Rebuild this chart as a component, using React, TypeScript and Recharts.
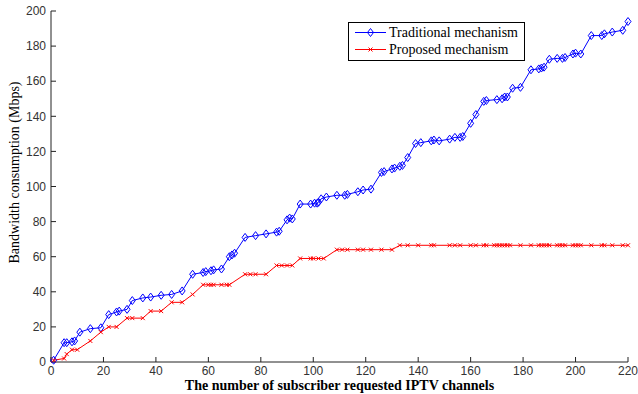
import { Label, Line, LineChart, XAxis, YAxis } from "recharts";

// Traditional mechanism (blue diamonds)
const tradX = [
  1, 5, 6, 8, 9, 11, 15, 19, 22, 25, 26, 29, 31, 35, 38, 42, 46, 50, 54, 58,
  59, 61, 62, 65, 68, 69, 70, 74, 78, 82, 86, 87, 90, 91, 92, 95, 99, 100.5,
  101.5, 102, 103, 105, 109, 112, 113, 117, 119, 122, 126, 127, 130, 131, 133,
  134, 136, 139, 141, 145, 146, 148, 152, 154, 156, 157, 160, 162, 165, 166,
  170, 172, 173, 174, 176, 179, 183, 186, 187, 188, 190, 193, 195, 196, 199,
  200, 202, 206, 210, 211, 214, 218, 220,
];
const tradY = [
  1, 11, 11, 11.5, 12, 17, 19, 19.5, 27, 28.5, 29, 30, 35, 36.5, 37, 38, 38.5,
  40.5, 50, 51, 51.5, 52, 52.5, 53, 60, 61, 62, 71, 72, 73, 74, 74.5, 81, 82,
  81.5, 90, 90, 90.5, 90.5, 91, 93, 94, 95, 95, 95.5, 97, 98, 98.5, 108, 108.5,
  110, 110.5, 111.5, 112, 116.5, 124.5, 125, 126, 126.5, 126, 127, 128, 128,
  128.5, 136, 141, 148.5, 149, 149.5, 150, 151, 151, 156, 156.5, 166.5, 167,
  167.5, 168, 172.5, 173, 173, 173.5, 175.5, 176, 175.5, 186, 186, 187, 188,
  189, 194,
];

// Proposed mechanism (red crosses)
const propX = [
  1, 5, 6, 8, 10, 15, 19, 22, 25, 29, 31, 35, 38, 42, 46, 50, 54, 58, 60, 61,
  62, 65, 67, 68, 74, 76, 78, 82, 86, 88, 90, 92, 95, 99, 100, 102, 104, 109,
  111, 113, 117, 119, 122, 126, 130, 133, 136, 140, 145, 146, 152, 154, 156,
  160, 162, 165, 166, 169, 170, 171, 172, 173, 174, 175, 179, 183, 186, 187,
  188, 189, 190, 193, 194, 195, 196, 199, 200, 201, 202, 206, 210, 211, 214,
  218, 220,
];
const propY = [
  1, 2, 4.5, 7, 7, 12, 17, 20, 20, 25, 25, 25, 29, 29, 34, 34, 38.5, 44, 44,
  44, 44, 44, 44, 44, 50, 50, 50, 50, 55, 55, 55, 55, 59, 59, 59, 59, 59, 64,
  64, 64, 64, 64, 64, 64, 64, 66.5, 66.5, 66.5, 66.5, 66.5, 66.5, 66.5, 66.5,
  66.5, 66.5, 66.5, 66.5, 66.5, 66.5, 66.5, 66.5, 66.5, 66.5, 66.5, 66.5, 66.5,
  66.5, 66.5, 66.5, 66.5, 66.5, 66.5, 66.5, 66.5, 66.5, 66.5, 66.5, 66.5, 66.5,
  66.5, 66.5, 66.5, 66.5, 66.5, 66.5,
];

const xTicks = [0, 20, 40, 60, 80, 100, 120, 140, 160, 180, 200, 220];
const yTicks = [0, 20, 40, 60, 80, 100, 120, 140, 160, 180, 200];

const tradData = tradX.map((x, i) => ({ x, y: tradY[i] }));
const propData = propX.map((x, i) => ({ x, y: propY[i] }));

const BLUE = "#0000ff";
const RED = "#ff0000";
const serif = "'Liberation Serif', 'Times New Roman', serif";
const tickStyle = { fontFamily: "'Liberation Sans', Arial, sans-serif", fontSize: 12, fill: "#333" };

const Diamond = (props: any) => {
  const { cx, cy } = props;
  if (cx == null || cy == null) return null;
  return (
    <path
      d={`M${cx},${cy - 4}L${cx + 3},${cy}L${cx},${cy + 4}L${cx - 3},${cy}Z`}
      fill="none"
      stroke={BLUE}
      strokeWidth={1}
    />
  );
};

const Cross = (props: any) => {
  const { cx, cy } = props;
  if (cx == null || cy == null) return null;
  return (
    <path
      d={`M${cx - 2},${cy - 2}L${cx + 2},${cy + 2}M${cx - 2},${cy + 2}L${cx + 2},${cy - 2}`}
      stroke={RED}
      strokeWidth={1}
    />
  );
};

// legend drawn as an overlay so it doesn't take space from the plot
const LegendBox = () => (
  <svg width={177} height={39} style={{ position: "absolute", left: 348, top: 22 }}>
    <rect x={0.5} y={0.5} width={176} height={38} fill="#fff" stroke="#000" />
    <line x1={7} x2={38} y1={10.5} y2={10.5} stroke={BLUE} />
    <Diamond cx={22.5} cy={10.5} />
    <text x={41} y={15} fontFamily={serif} fontSize={14} fill="#000">
      Traditional mechanism
    </text>
    <line x1={7} x2={38} y1={27.5} y2={27.5} stroke={RED} />
    <Cross cx={22.5} cy={27.5} />
    <text x={41} y={32} fontFamily={serif} fontSize={14} fill="#000">
      Proposed mechanism
    </text>
  </svg>
);

export default function App() {
  return (
    <div style={{ position: "absolute", left: 0, top: 0, width: 638, height: 394, background: "#fff" }}>
      <LineChart
        width={638}
        height={394}
        margin={{ top: 11, right: 10, left: 0, bottom: 0 }}
      >
        <XAxis
          dataKey="x"
          type="number"
          domain={[0, 220]}
          ticks={xTicks}
          interval={0}
          height={32}
          tickSize={-5}
          tickMargin={9}
          tick={tickStyle}
          stroke="#222"
          allowDuplicatedCategory={false}
        >
          <Label
            value="The number of subscriber requested IPTV channels"
            position="insideBottom"
            offset={4}
            style={{ fontFamily: serif, fontSize: 14, fontWeight: "bold", fill: "#000" }}
          />
        </XAxis>
        <XAxis
          xAxisId="top"
          orientation="top"
          type="number"
          domain={[0, 220]}
          ticks={xTicks}
          interval={0}
          height={0}
          tickSize={-5}
          tick={false}
          stroke="#222"
        />
        <YAxis
          type="number"
          domain={[0, 200]}
          ticks={yTicks}
          interval={0}
          width={51}
          tickSize={-5}
          tickMargin={10}
          tick={tickStyle}
          stroke="#222"
        >
          <Label
            value="Bandwidth consumption (Mbps)"
            angle={-90}
            position="insideLeft"
            offset={14}
            dy={-14}
            style={{ textAnchor: "middle", fontFamily: serif, fontSize: 14, fill: "#000" }}
          />
        </YAxis>
        <YAxis
          yAxisId="right"
          orientation="right"
          type="number"
          domain={[0, 200]}
          ticks={yTicks}
          interval={0}
          width={0}
          tickSize={-5}
          tick={false}
          stroke="#222"
        />
        <Line
          data={tradData}
          dataKey="y"
          name="Traditional mechanism"
          stroke={BLUE}
          strokeWidth={1}
          dot={<Diamond />}
          isAnimationActive={false}
        />
        <Line
          data={propData}
          dataKey="y"
          name="Proposed mechanism"
          stroke={RED}
          strokeWidth={1}
          dot={<Cross />}
          isAnimationActive={false}
        />
      </LineChart>
      <LegendBox />
    </div>
  );
}
